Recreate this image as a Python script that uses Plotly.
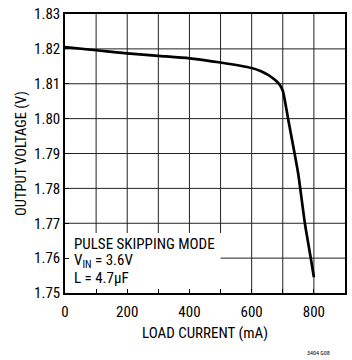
import plotly.graph_objects as go

# Load current (mA) and output voltage (V)
load_current_ma = [0, 100, 200, 300, 400, 500, 600, 630, 650, 665, 680, 690, 700, 717, 738, 750, 771, 790, 800]
output_voltage_v = [1.8205, 1.8196, 1.8187, 1.8180, 1.8173, 1.8161, 1.8145, 1.8136, 1.8127, 1.8118, 1.8107, 1.8097, 1.8080, 1.8000, 1.7900, 1.7840, 1.7700, 1.7600, 1.7545]

x_grid = [100, 200, 300, 400, 500, 600, 700, 800]
y_grid = [1.76, 1.77, 1.78, 1.79, 1.80, 1.81, 1.82]
x_range = [0, 900]
y_range = [1.75, 1.83]

# the condition notes sit in a clear panel in the lower-left corner
note_panel_x = 500
note_panel_y = 1.7672

FONT = "Roboto Condensed, DejaVu Sans Condensed, Liberation Sans, sans-serif"
GRID = "#222222"

fig = go.Figure()
fig.add_trace(go.Scatter(
    x=load_current_ma, y=output_voltage_v, mode="lines",
    line=dict(color="black", width=2.7, shape="spline", smoothing=0.6),
    showlegend=False, hoverinfo="skip",
))

# gridlines, left open inside the notes panel
for gx in x_grid:
    y0 = note_panel_y if gx <= note_panel_x else y_range[0]
    fig.add_shape(type="line", xref="x", yref="y", x0=gx, x1=gx, y0=y0, y1=y_range[1],
                  line=dict(color=GRID, width=1), layer="below")
for gy in y_grid:
    x0 = note_panel_x if gy < note_panel_y else x_range[0]
    fig.add_shape(type="line", xref="x", yref="y", x0=x0, x1=x_range[1], y0=gy, y1=gy,
                  line=dict(color=GRID, width=1), layer="below")

notes = ["PULSE SKIPPING MODE", "V<sub>IN</sub> = 3.6V", "L = 4.7µF"]
note_y = [1.76395, 1.7591, 1.7543]
for txt, yy in zip(notes, note_y):
    fig.add_annotation(x=0.025, xref="paper", y=yy, yref="y", text=txt,
                       showarrow=False, xanchor="left", yanchor="middle",
                       font=dict(family=FONT, size=15, color="black"))

fig.add_annotation(x=0.905, xref="paper", y=-0.215, yref="paper", text="3404 G08",
                   showarrow=False, xanchor="center", yanchor="middle",
                   font=dict(family=FONT, size=6, color="black"))

fig.update_layout(
    width=352, height=360,
    margin=dict(l=65, r=5, t=12, b=67),
    plot_bgcolor="white", paper_bgcolor="white",
    font=dict(family=FONT, size=15, color="black"),
    xaxis=dict(
        range=x_range, dtick=200, tick0=0, ticks="inside", ticklen=4,
        tickcolor="black", showgrid=False, ticklabelstandoff=4,
        minor=dict(dtick=100, tick0=0, showgrid=False,
                   ticks="inside", ticklen=4, tickcolor="black"),
        showline=True, linecolor="black", linewidth=1.5, mirror=True,
        zeroline=False, fixedrange=True,
        title=dict(text="LOAD CURRENT (mA)", font=dict(family=FONT, size=15), standoff=8),
        tickfont=dict(family=FONT, size=15),
    ),
    yaxis=dict(
        range=y_range, dtick=0.01, tick0=1.75, tickformat=".2f",
        ticks="inside", ticklen=4, tickcolor="black", showgrid=False,
        showline=True, linecolor="black", linewidth=1.5, mirror=True,
        zeroline=False, fixedrange=True,
        title=dict(text="OUTPUT VOLTAGE (V)", font=dict(family=FONT, size=14.5), standoff=4),
        tickfont=dict(family=FONT, size=15),
    ),
)

fig.write_html("out.html")
